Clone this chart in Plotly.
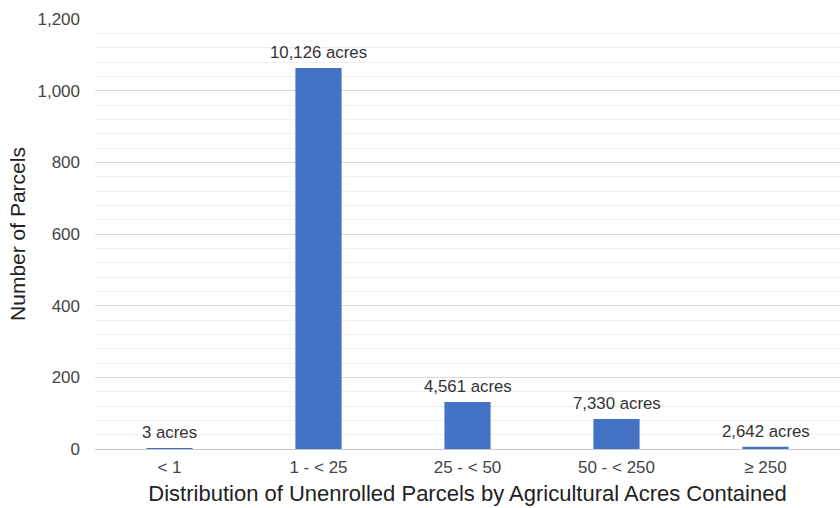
import plotly.graph_objects as go

categories = ["< 1", "1 - < 25", "25 - < 50", "50 - < 250", "≥ 250"]
parcels = [2, 1063, 131, 84, 6]
acre_labels = ["3 acres", "10,126 acres", "4,561 acres", "7,330 acres", "2,642 acres"]
y_ticks = [0, 200, 400, 600, 800, 1000, 1200]
y_tick_text = ["0", "200", "400", "600", "800", "1,000", "1,200"]

FONT = "Liberation Sans, Arial, sans-serif"

fig = go.Figure(
    go.Bar(
        x=categories,
        y=parcels,
        marker=dict(color="#4472C4", line=dict(width=0)),
        cliponaxis=False,
    )
)

# acreage labels sit a little above each bar
for cat, val, label in zip(categories, parcels, acre_labels):
    fig.add_annotation(
        x=cat, y=val, text=label, showarrow=False,
        yanchor="bottom", yshift=4,
        font=dict(family=FONT, size=16.8, color="#333333"),
    )

fig.update_layout(
    width=840,
    height=508,
    margin=dict(l=95, r=0, t=19, b=59),
    paper_bgcolor="white",
    plot_bgcolor="white",
    bargap=0.69,
    showlegend=False,
    font=dict(family=FONT, color="#444444"),
)

fig.update_xaxes(
    title=dict(text="Distribution of Unenrolled Parcels by Agricultural Acres Contained",
               font=dict(size=22, color="#222222"), standoff=9),
    tickfont=dict(size=17, color="#444444"),
    ticklabelstandoff=6,
    showgrid=False,
    showline=False,
    ticks="",
)

fig.update_yaxes(
    title=dict(text="Number of Parcels", font=dict(size=21, color="#222222"), standoff=6),
    range=[0, 1200],
    tickvals=y_ticks,
    ticktext=y_tick_text,
    tickfont=dict(size=17, color="#444444"),
    ticklabelstandoff=14,
    showgrid=True,
    gridcolor="#d9d9d9",
    gridwidth=1,
    minor=dict(dtick=40, showgrid=True, gridcolor="#efefef", gridwidth=1),
    zeroline=True,
    zerolinecolor="#c8c8c8",
    zerolinewidth=1,
    ticks="",
)

fig.write_html("out.html")
